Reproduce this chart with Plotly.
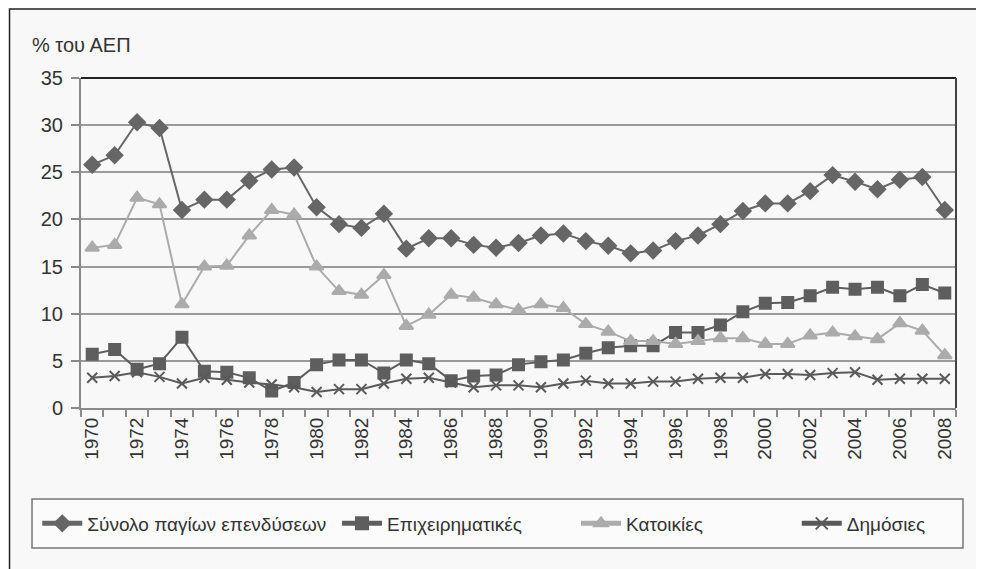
import plotly.graph_objects as go

# years on the x axis
years = list(range(1970, 2009))

# % του ΑΕΠ
synolo = [25.8, 26.8, 30.3, 29.7, 21.0, 22.1, 22.1, 24.1, 25.3, 25.5,
          21.3, 19.5, 19.1, 20.6, 16.9, 18.0, 18.0, 17.3, 17.0, 17.5,
          18.3, 18.5, 17.7, 17.2, 16.4, 16.7, 17.7, 18.3, 19.5, 20.9,
          21.7, 21.7, 23.0, 24.7, 24.0, 23.2, 24.2, 24.5, 21.0]
epixeirimatikes = [5.7, 6.2, 4.1, 4.7, 7.5, 3.9, 3.8, 3.2, 1.8, 2.7,
                   4.6, 5.1, 5.1, 3.7, 5.1, 4.7, 2.9, 3.4, 3.5, 4.6,
                   4.9, 5.1, 5.8, 6.4, 6.6, 6.6, 8.0, 8.0, 8.8, 10.2,
                   11.1, 11.2, 11.9, 12.8, 12.6, 12.8, 11.9, 13.1, 12.2]
katoikies = [17.0, 17.3, 22.3, 21.6, 11.0, 15.0, 15.1, 18.3, 21.0, 20.5,
             15.0, 12.4, 12.0, 14.1, 8.7, 9.9, 12.0, 11.7, 11.0, 10.4,
             11.0, 10.6, 8.9, 8.1, 7.1, 7.1, 6.8, 7.1, 7.4, 7.4,
             6.8, 6.8, 7.7, 8.0, 7.6, 7.3, 9.0, 8.2, 5.6]
dimosies = [3.2, 3.4, 3.8, 3.3, 2.6, 3.2, 3.0, 2.7, 2.5, 2.2,
            1.7, 2.0, 2.0, 2.6, 3.1, 3.2, 2.7, 2.2, 2.4, 2.4,
            2.2, 2.6, 2.9, 2.6, 2.6, 2.8, 2.8, 3.1, 3.2, 3.2,
            3.6, 3.6, 3.5, 3.7, 3.8, 3.0, 3.1, 3.1, 3.1]

y_ticks = [0, 5, 10, 15, 20, 25, 30, 35]
x_ticks = list(range(1970, 2009, 2))

FONT = "Liberation Sans, Arial, sans-serif"

fig = go.Figure()

# each series gets its own legend so the entries sit where they do in the original
series = [
    ("Σύνολο παγίων επενδύσεων", synolo, "#666666", "diamond", 12, "legend"),
    ("Επιχειρηματικές", epixeirimatikes, "#5e5e5e", "square", 11, "legend2"),
    ("Κατοικίες", katoikies, "#ababab", "triangle-up", 12, "legend3"),
    ("Δημόσιες", dimosies, "#5a5a5a", "x-thin-open", 10, "legend4"),
]
for name, vals, col, sym, size, leg in series:
    fig.add_trace(go.Scatter(
        x=years, y=vals, name=name, mode="lines+markers", legend=leg,
        line=dict(color=col, width=2),
        marker=dict(symbol=sym, size=size, color=col, line=dict(color=col, width=2)),
    ))

# outer frame, legend box, top and right border of the plot
fig.add_shape(type="rect", xref="paper", yref="paper", x0=-0.0817, x1=1.04, y0=-0.51, y1=1.209,
              line=dict(color="#222222", width=1.5), fillcolor="#f8f8f8", layer="below")
fig.add_shape(type="rect", xref="paper", yref="paper", x0=-0.056, x1=1.008, y0=-0.4242, y1=-0.2758,
              line=dict(color="#777777", width=1.5), fillcolor="#fbfbfb", layer="below")
fig.add_shape(type="line", xref="paper", yref="paper", x0=0, x1=1, y0=1, y1=1,
              line=dict(color="#222222", width=2))
fig.add_shape(type="line", xref="paper", yref="paper", x0=1, x1=1, y0=0, y1=1,
              line=dict(color="#444444", width=2))

fig.add_annotation(text="% του ΑΕΠ", xref="paper", yref="paper", x=-0.058, y=1.10,
                   xanchor="left", yanchor="middle", showarrow=False,
                   font=dict(family=FONT, size=20, color="#333333"))

leg_common = dict(orientation="h", yanchor="middle", y=-0.35, xanchor="left",
                  bgcolor="rgba(0,0,0,0)", font=dict(size=19, color="#333333"),
                  itemwidth=40, itemsizing="constant")

# the page body adds 8px around the figure, so the figure is 8px smaller
fig.update_layout(
    width=976, height=561,
    margin=dict(l=73, r=28, t=70, b=161),
    paper_bgcolor="white", plot_bgcolor="white",
    font=dict(family=FONT, size=19, color="#333333"),
    showlegend=True,
    legend=dict(x=-0.05, **leg_common),
    legend2=dict(x=0.2926, **leg_common),
    legend3=dict(x=0.5657, **leg_common),
    legend4=dict(x=0.818, **leg_common),
    xaxis=dict(range=[1969.5, 2008.5], tickmode="array", tickvals=x_ticks,
               ticktext=[str(v) for v in x_ticks], tickangle=-90, ticks="",
               showgrid=False, zeroline=False, showline=True, linecolor="#8a8a8a", linewidth=2,
               tickfont=dict(size=19),
               minor=dict(tickmode="linear", tick0=1969.5, dtick=1, ticks="outside",
                          ticklen=7, tickwidth=1.5, tickcolor="#8a8a8a", showgrid=False)),
    yaxis=dict(range=[0, 35], tickmode="array", tickvals=y_ticks, ticks="outside",
               ticklen=8, tickwidth=1.5, tickcolor="#8a8a8a",
               showgrid=True, gridcolor="#9a9a9a", gridwidth=1.5, zeroline=False,
               showline=True, linecolor="#8a8a8a", linewidth=2,
               tickfont=dict(size=20), ticklabelstandoff=4),
)

fig.write_html("out.html")
